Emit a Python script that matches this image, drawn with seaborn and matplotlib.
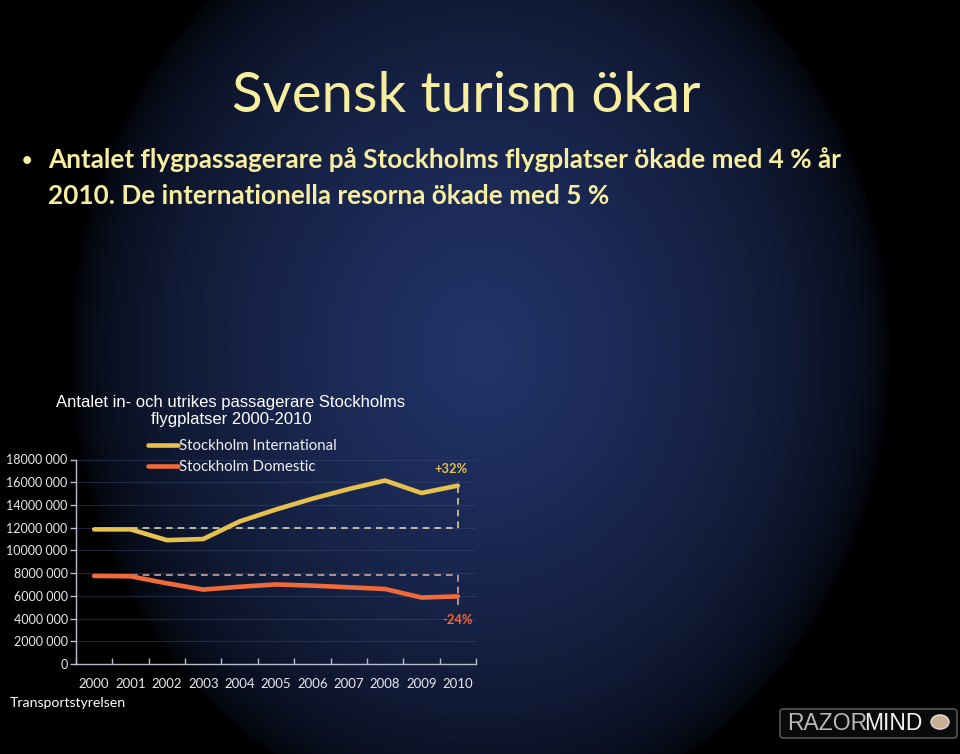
import numpy as np
import pandas as pd
import matplotlib
matplotlib.use("Agg")
import matplotlib.pyplot as plt
import seaborn as sns
from matplotlib.patches import FancyBboxPatch, Circle

years = ["2000", "2001", "2002", "2003", "2004", "2005", "2006", "2007", "2008", "2009", "2010"]
international = [11.85e6, 11.85e6, 10.9e6, 11.0e6, 12.55e6, 13.6e6, 14.55e6, 15.4e6, 16.15e6, 15.05e6, 15.7e6]
domestic = [7.75e6, 7.72e6, 7.1e6, 6.55e6, 6.8e6, 7.0e6, 6.9e6, 6.75e6, 6.6e6, 5.85e6, 5.95e6]
series_names = ["Stockholm International", "Stockholm Domestic"]
intl_ref = 12.0e6
dom_ref = 7.8e6
intl_change = "+32%"
dom_change = "-24%"
yticks = [0, 2e6, 4e6, 6e6, 8e6, 10e6, 12e6, 14e6, 16e6, 18e6]

sns.set_style("dark")
plt.rcParams["font.family"] = ["Lato", "DejaVu Sans"]

W, H = 960, 754
fig = plt.figure(figsize=(9.6, 7.54), dpi=100)
fig.patch.set_facecolor("black")

# background radial gradient
bg = fig.add_axes([0, 0, 1, 1], zorder=-10)
yy, xx = np.mgrid[0:H, 0:W]
r = np.sqrt(((xx - 480) / 410.0) ** 2 + ((yy - 350) / 470.0) ** 2)
f = np.clip(1 - r, 0, 1) ** 0.5
center = np.array([0x22, 0x34, 0x6a]) / 255.0
img = f[..., None] * center[None, None, :]
bg.imshow(img, aspect="auto", extent=[0, 1, 0, 1], origin="upper")
bg.set_axis_off()

gold = "#e6c14e"
orange = "#f06a3a"
pale = "#f7eea0"

# Titles
fig.text(0.486, 1 - 97 / H, "Svensk turism ökar", color=pale, fontsize=40.6,
         ha="center", va="center")
fig.text(27 / W, 1 - 160 / H, "•", color=pale, fontsize=13, ha="center", va="center", fontweight="bold")
fig.text(48 / W, 1 - 160 / H, "Antalet flygpassagerare på Stockholms flygplatser ökade med 4 % år",
         color=pale, fontsize=18.8, ha="left", va="center", fontweight="bold")
fig.text(48 / W, 1 - 196 / H, "2010. De internationella resorna ökade med 5 %",
         color=pale, fontsize=18.8, ha="left", va="center", fontweight="bold")

fig.text(231 / W, 1 - 411 / H, "Antalet in- och utrikes passagerare Stockholms\nflygplatser 2000-2010",
         color="white", fontsize=12, ha="center", va="center", linespacing=1.15,
         family=["Liberation Sans", "DejaVu Sans"])

# Chart axes
ax = fig.add_axes([76 / W, 1 - 664 / H, 400 / W, 204.5 / H])
ax.set_facecolor("none")

df = pd.DataFrame({
    "year": years * 2,
    "x": list(range(len(years))) * 2,
    "value": international + domestic,
    "series": [series_names[0]] * len(years) + [series_names[1]] * len(years),
})
sns.lineplot(data=df, x="x", y="value", hue="series", palette={series_names[0]: gold, series_names[1]: orange},
             linewidth=3.3, ax=ax, legend=True, sort=False, zorder=3)

n = len(years)
# reference dashed lines
ax.plot([1, n - 1], [intl_ref, intl_ref], ls=(0, (4, 3)), color="#d8d4b8", lw=1.2, zorder=2)
ax.plot([1, n - 1], [dom_ref, dom_ref], ls=(0, (4, 3)), color="#c9a6a6", lw=1.2, zorder=2)
ax.plot([n - 1, n - 1], [intl_ref, 16.1e6], ls=(0, (4, 3)), color="#d8cc90", lw=1.2, zorder=2)
ax.plot([n - 1, n - 1], [dom_ref, 5.1e6], ls=(0, (4, 3)), color="#c9a6a6", lw=1.2, zorder=2)
ax.text(n - 1.2, 17.2e6, intl_change, color=gold, fontsize=9.3, ha="center", va="center", fontweight="bold")
ax.text(n - 1.0, 3.85e6, dom_change, color=orange, fontsize=9.3, ha="center", va="center", fontweight="bold")

ax.set_xlim(-0.5, n - 0.5)
ax.set_ylim(0, 18e6)
ax.set_yticks(yticks)
ax.set_yticklabels(["0" if v == 0 else f"{int(v // 1e6)}000 000" for v in yticks])
ax.set_xticks(range(n))
ax.set_xticklabels(years)
ax.set_xticks(np.arange(-0.5, n, 1), minor=True)
ax.set_xlabel("")
ax.set_ylabel("")
ax.grid(axis="y", color="#3a4870", lw=0.8, alpha=0.5)
ax.grid(axis="x", visible=False)
for s in ["top", "right"]:
    ax.spines[s].set_visible(False)
for s in ["left", "bottom"]:
    ax.spines[s].set_visible(True)
    ax.spines[s].set_color("#b8bccc")
    ax.spines[s].set_linewidth(1.0)
ax.tick_params(axis="y", colors="#e8e8ee", labelsize=9.0, length=4, width=1, left=True, color="#b8bccc", pad=2)
ax.tick_params(axis="x", which="major", colors="#e8e8ee", labelsize=9.5, length=0, pad=10)
ax.tick_params(axis="x", which="minor", bottom=True, direction="in", length=4, width=1, color="#b8bccc")

leg = ax.legend(loc="upper left", bbox_to_anchor=(148 / W, 1 - 439 / H), bbox_transform=fig.transFigure,
                frameon=False, handlelength=2.0, handletextpad=0.05, labelspacing=0.45, fontsize=10.8,
                borderaxespad=0, borderpad=0)
for t in leg.get_texts():
    t.set_color("#f0f0f0")
for l in leg.get_lines():
    l.set_linewidth(3.3)

fig.text(10 / W, 1 - 703 / H, "Transportstyrelsen", color="white", fontsize=10.2, ha="left", va="center")

# logo
logo = FancyBboxPatch((780 / W, 1 - 738 / H), 177 / W, 29 / H, boxstyle="round,pad=0,rounding_size=0.004",
                      transform=fig.transFigure, facecolor="#0a0a0a", edgecolor="#555555", lw=1.2)
fig.patches.append(logo)
t1 = fig.text(787 / W, 1 - 723 / H, "RAZOR", color="#b8b8b8", fontsize=16.5, ha="left", va="center",
              family=["Liberation Sans", "DejaVu Sans"])
fig.canvas.draw()
bb = t1.get_window_extent()
fig.text(bb.x1 / W - 0.003, 1 - 723 / H, "MIND", color="#f2f2f2", fontsize=16.5, ha="left", va="center",
         family=["Liberation Sans", "DejaVu Sans"])
circ = Circle((940 / W, 1 - 722 / H), 9 / W, transform=fig.transFigure, facecolor="#c8b090", edgecolor="#e0e0e0", lw=1)
fig.patches.append(circ)

fig.savefig("out.png", dpi=100, facecolor="black")
